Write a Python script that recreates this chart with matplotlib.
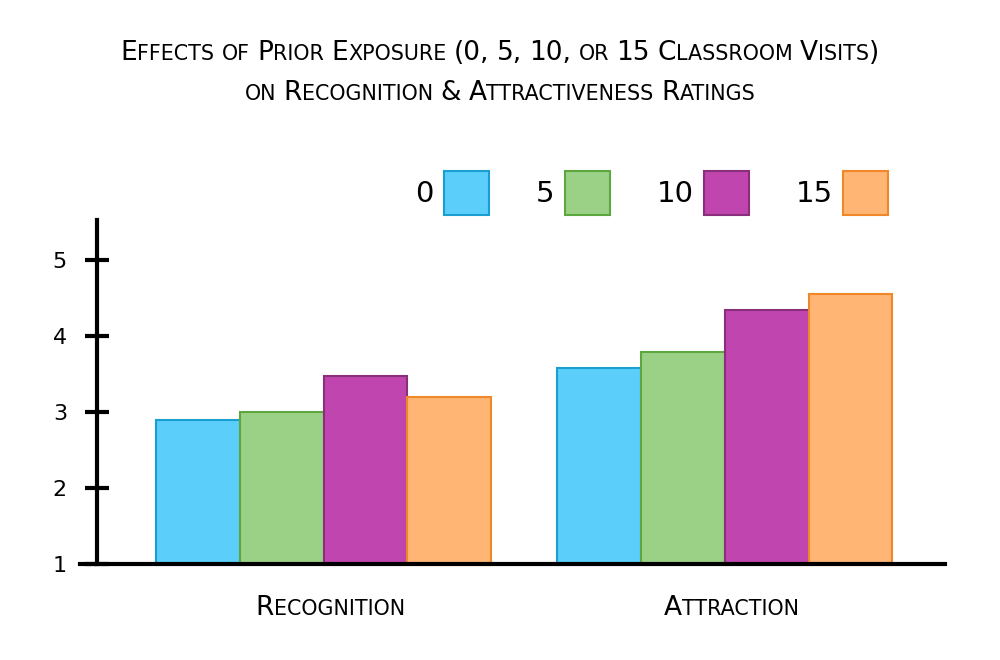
import numpy as np
import matplotlib
matplotlib.use("Agg")
import matplotlib.pyplot as plt
from matplotlib.offsetbox import TextArea, HPacker, VPacker, AnnotationBbox

# data
groups = ["Recognition", "Attraction"]
visits = ["0", "5", "10", "15"]
ratings = {
    "0": [2.9, 3.58],
    "5": [3.0, 3.79],
    "10": [3.47, 4.34],
    "15": [3.2, 4.55],
}
yticks = [1, 2, 3, 4, 5]

fills = ["#5BCFFA", "#9BD187", "#C045AE", "#FFB574"]
edges = ["#1A9FD0", "#5DA83E", "#8A2F7C", "#F0882A"]

FONT = ["DejaVu Sans"]
plt.rcParams["font.family"] = FONT


def smallcaps(text, size, ratio=0.78):
    # fake small caps: lowercase letters drawn as smaller capitals
    words = []
    for w in text.split(" "):
        runs = []
        for ch in w:
            small = ch.islower()
            if runs and runs[-1][1] == small:
                runs[-1][0] += ch.upper()
            else:
                runs.append([ch.upper(), small])
        kids = [TextArea(s, textprops=dict(fontsize=size * ratio if sm else size,
                                           family=FONT, color="black"))
                for s, sm in runs]
        words.append(HPacker(children=kids, align="baseline", pad=0, sep=0))
    return HPacker(children=words, align="baseline", pad=0, sep=size * 0.28)


fig = plt.figure(figsize=(10, 6.6), dpi=100)
ax = fig.add_axes([0.08, 0.1455, 0.865, 0.521])

x = np.arange(len(groups))
w = 0.209
bars = []
for i, v in enumerate(visits):
    b = ax.bar(x + (i - 1.5) * w, np.array(ratings[v]) - 1, width=w, bottom=1,
               color=fills[i], edgecolor=edges[i], linewidth=1.5, label=v, zorder=2)
    bars.append(b)

ax.set_xlim(-0.607, 1.549)
ax.set_ylim(1, 5.53)
ax.spines["top"].set_visible(False)
ax.spines["right"].set_visible(False)
ax.spines["left"].set_position(("data", -0.565))
for s in ["left", "bottom"]:
    ax.spines[s].set_linewidth(3)
    ax.spines[s].set_zorder(3)

ax.set_yticks(yticks)
ax.set_yticklabels([str(t) for t in yticks])
ax.tick_params(axis="y", direction="inout", length=17, width=3, pad=13, labelsize=16)
ax.set_xticks([])

for xi, g in zip(x, groups):
    ab = AnnotationBbox(smallcaps(g, 19), (xi, 0), xycoords=ax.get_xaxis_transform(),
                        xybox=(5, -22), boxcoords="offset points",
                        box_alignment=(0.5, 1), frameon=False, annotation_clip=False)
    ax.add_artist(ab)

title = VPacker(children=[
    smallcaps("Effects of Prior Exposure (0, 5, 10, or 15 Classroom Visits)", 19),
    smallcaps("on Recognition & Attractiveness Ratings", 19),
], align="center", pad=0, sep=10)
fig.add_artist(AnnotationBbox(title, (0.5, 1 - 73 / 660), xycoords="figure fraction",
                              box_alignment=(0.5, 0.5), frameon=False))

fig.legend(handles=bars, labels=visits, loc="upper right",
           bbox_to_anchor=(0.888, 1 - 171 / 660), ncol=4, frameon=False,
           markerfirst=False, fontsize=21, handlelength=1.55, handleheight=1.95,
           handletextpad=0.35, columnspacing=1.6, borderpad=0, borderaxespad=0)

fig.savefig("out.png", dpi=100)
